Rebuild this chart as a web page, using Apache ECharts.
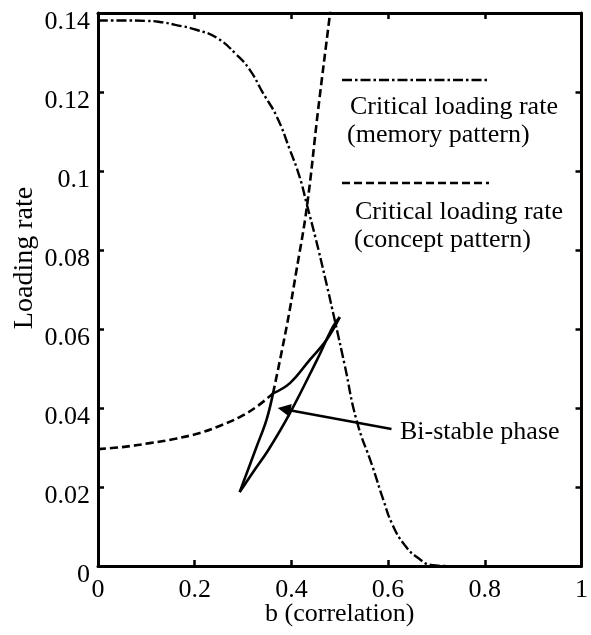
<!DOCTYPE html>
<html><head><meta charset="utf-8">
<script src="https://cdn.jsdelivr.net/npm/echarts@6/dist/echarts.min.js"></script>
<style>html,body{margin:0;padding:0;background:#fff}#c{width:591px;height:635px}</style>
</head><body><div id="c"></div>
<script>
// ---- data ----
const xTicks = [0, 0.2, 0.4, 0.6, 0.8, 1];
const yTicks = [0, 0.02, 0.04, 0.06, 0.08, 0.1, 0.12, 0.14];
const memoryCurve = [[0,0.1381],[0.05,0.1381],[0.1,0.138],[0.125,0.1378],[0.16,0.137],[0.205,0.1357],[0.246,0.1337],[0.287,0.1294],[0.314,0.1256],[0.341,0.1198],[0.37,0.1137],[0.397,0.1053],[0.417,0.0985],[0.432,0.0915],[0.45,0.083],[0.47,0.0728],[0.491,0.0615],[0.51,0.051],[0.535,0.0368],[0.568,0.0251],[0.59,0.0168],[0.61,0.0102],[0.635,0.0052],[0.66,0.0022],[0.692,0.0002],[0.72,0]];
const conceptLow = [[0,0.0296],[0.05,0.0301],[0.107,0.0311],[0.16,0.0322],[0.211,0.0337],[0.25,0.0354],[0.293,0.0377],[0.33,0.0405],[0.362,0.0437]];
const conceptHigh = [[0.362,0.0437],[0.39,0.0605],[0.41,0.0745],[0.432,0.0909],[0.455,0.1152],[0.479,0.139],[0.4805,0.1405]];
const bistableLeftLow = [[0.293,0.0187],[0.328,0.0302],[0.3485,0.037],[0.362,0.0437]];
const bistableLeftHigh = [[0.362,0.0437],[0.397,0.0463],[0.438,0.0522],[0.4725,0.0572],[0.5,0.063]];
const bistableRight = [[0.293,0.0187],[0.322,0.024],[0.352,0.0293],[0.397,0.0387],[0.453,0.0522],[0.486,0.0606],[0.5,0.063]];
const arrowFrom = [0.607, 0.0347];
const arrowTo = [0.385, 0.0397];
const legendTexts = ['Critical loading rate', '(memory pattern)', 'Critical loading rate', '(concept pattern)'];
const annotationText = 'Bi-stable phase';
const xName = 'b (correlation)';
const yName = 'Loading rate';

// ---- styles ----
const FONT = '"Liberation Serif", "Times New Roman", serif';
const BLACK = '#000';
const dashDot = [10, 3, 2.5, 3];
const dashed = [8, 4];

function lineSeries(data, type, width, smooth) {
  return {
    type: 'line', data: data, showSymbol: false, symbol: 'none', smooth: smooth,
    silent: true, animation: false,
    lineStyle: { color: BLACK, width: width, type: type }
  };
}

const chart = echarts.init(document.getElementById('c'), null, { renderer: 'canvas' });
const axisCommon = {
  type: 'value', splitLine: { show: false },
  axisLine: { show: true, onZero: false, lineStyle: { color: BLACK, width: 3 } },
  axisTick: { show: true, inside: true, length: 6, lineStyle: { color: BLACK, width: 2.5 } }
};

const fmt = v => String(+v.toFixed(2));

const rightSeries = lineSeries(bistableRight, 'solid', 2.6, 0.4);
rightSeries.markLine = {
  silent: true, animation: false,
  symbol: ['none', 'triangle'], symbolSize: 13,
  lineStyle: { color: BLACK, width: 2.5, type: 'solid' },
  label: { show: false },
  data: [[{ coord: arrowFrom }, { coord: arrowTo }]]
};

chart.setOption({
  backgroundColor: '#fff',
  animation: false,
  grid: { left: 98, right: 9, top: 13, bottom: 69 },
  xAxis: [
    Object.assign({}, axisCommon, {
      min: xTicks[0], max: xTicks[xTicks.length - 1], interval: 0.2, position: 'bottom',
      axisLabel: { show: true, margin: 11, color: BLACK, fontFamily: FONT, fontSize: 26, formatter: fmt },
      name: xName, nameLocation: 'middle', nameGap: 35, nameMoveOverlap: false,
      nameTextStyle: { color: BLACK, fontFamily: FONT, fontSize: 26 }
    }),
    Object.assign({}, axisCommon, {
      min: xTicks[0], max: xTicks[xTicks.length - 1], interval: 0.2, position: 'top',
      axisLabel: { show: false }
    })
  ],
  yAxis: [
    Object.assign({}, axisCommon, {
      min: yTicks[0], max: yTicks[yTicks.length - 1], interval: 0.02, position: 'left',
      axisLabel: { show: true, margin: 8, color: BLACK, fontFamily: FONT, fontSize: 26, formatter: fmt,
        verticalAlign: 'top', lineHeight: 19 }
    }),
    Object.assign({}, axisCommon, {
      min: yTicks[0], max: yTicks[yTicks.length - 1], interval: 0.02, position: 'right',
      axisLabel: { show: false }
    })
  ],
  series: [
    lineSeries(memoryCurve, dashDot, 2.4, 0.5),
    lineSeries(conceptLow, dashed, 2.6, 0.4),
    lineSeries(conceptHigh, dashed, 2.6, 0.4),
    lineSeries(bistableLeftLow, 'solid', 2.6, 0.4),
    lineSeries(bistableLeftHigh, 'solid', 2.6, 0.4),
    rightSeries
  ],
  graphic: [
    { type: 'text', x: 25, y: 258, rotation: Math.PI / 2,
      style: { text: yName, fill: BLACK, font: '28px ' + FONT, textAlign: 'center', textVerticalAlign: 'middle' } },
    { type: 'line', shape: { x1: 342, y1: 80, x2: 488, y2: 80 },
      style: { stroke: BLACK, lineWidth: 2.4, lineDash: dashDot } },
    { type: 'text', x: 350, y: 107, style: { text: legendTexts[0], fill: BLACK, font: '26px ' + FONT, textVerticalAlign: 'middle' } },
    { type: 'text', x: 347, y: 135, style: { text: legendTexts[1], fill: BLACK, font: '26px ' + FONT, textVerticalAlign: 'middle' } },
    { type: 'line', shape: { x1: 342, y1: 183, x2: 489, y2: 183 },
      style: { stroke: BLACK, lineWidth: 2.6, lineDash: dashed } },
    { type: 'text', x: 355, y: 212, style: { text: legendTexts[2], fill: BLACK, font: '26px ' + FONT, textVerticalAlign: 'middle' } },
    { type: 'text', x: 354, y: 240, style: { text: legendTexts[3], fill: BLACK, font: '26px ' + FONT, textVerticalAlign: 'middle' } },
    { type: 'text', x: 400, y: 432, style: { text: annotationText, fill: BLACK, font: '26px ' + FONT, textVerticalAlign: 'middle' } }
  ]
});
</script>
</body></html>
